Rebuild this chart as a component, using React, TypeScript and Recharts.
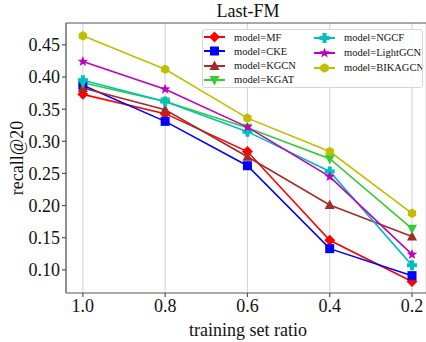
import { CartesianGrid, Label, Line, LineChart, ReferenceLine, XAxis, YAxis } from "recharts";

const ratios = [1.0, 0.8, 0.6, 0.4, 0.2];
const mf = [0.373, 0.343, 0.284, 0.146, 0.082];
const cke = [0.387, 0.331, 0.262, 0.133, 0.091];
const kgcn = [0.383, 0.349, 0.276, 0.201, 0.152];
const kgat = [0.391, 0.362, 0.321, 0.273, 0.164];
const ngcf = [0.395, 0.362, 0.315, 0.253, 0.107];
const lightgcn = [0.424, 0.381, 0.322, 0.245, 0.124];
const bikagcn = [0.464, 0.412, 0.336, 0.284, 0.188];
const yTicks = [0.1, 0.15, 0.2, 0.25, 0.3, 0.35, 0.4, 0.45];

const FONT = "'Liberation Serif', 'DejaVu Serif', serif";
const Y_MAX = 0.484;

type Shape = "diamond" | "square" | "up" | "down" | "x" | "star" | "hex";

const series: { key: string; name: string; color: string; shape: Shape; values: number[] }[] = [
  { key: "mf", name: "model=MF", color: "#ff0000", shape: "diamond", values: mf },
  { key: "cke", name: "model=CKE", color: "#0000ff", shape: "square", values: cke },
  { key: "kgcn", name: "model=KGCN", color: "#a52a2a", shape: "up", values: kgcn },
  { key: "kgat", name: "model=KGAT", color: "#32cd32", shape: "down", values: kgat },
  { key: "ngcf", name: "model=NGCF", color: "#00bfbf", shape: "x", values: ngcf },
  { key: "lightgcn", name: "model=LightGCN", color: "#bf00bf", shape: "star", values: lightgcn },
  { key: "bikagcn", name: "model=BIKAGCN", color: "#bfbf00", shape: "hex", values: bikagcn },
];

const data = ratios.map((r, i) => {
  const row: Record<string, number> = { ratio: r };
  series.forEach((s) => (row[s.key] = s.values[i]));
  return row;
});

function Marker({ cx, cy, shape, color }: { cx: number; cy: number; shape: Shape; color: string }) {
  if (cx == null || cy == null) return null;
  const pts = (arr: number[][]) => arr.map(([x, y]) => `${cx + x},${cy + y}`).join(" ");
  switch (shape) {
    case "diamond":
      return <polygon points={pts([[0, -5.5], [5.5, 0], [0, 5.5], [-5.5, 0]])} fill={color} />;
    case "square":
      return <rect x={cx - 4.5} y={cy - 4.5} width={9} height={9} fill={color} />;
    case "up":
      return <polygon points={pts([[0, -5.5], [5, 4], [-5, 4]])} fill={color} />;
    case "down":
      return <polygon points={pts([[0, 5.5], [5, -4], [-5, -4]])} fill={color} />;
    case "x": {
      const a = 2, b = 5;
      return (
        <polygon
          points={pts([[-a, -b], [a, -b], [a, -a], [b, -a], [b, a], [a, a], [a, b], [-a, b], [-a, a], [-b, a], [-b, -a], [-a, -a]])}
          fill={color}
        />
      );
    }
    case "star": {
      const p: number[][] = [];
      for (let i = 0; i < 10; i++) {
        const r = i % 2 === 0 ? 5.5 : 2.3;
        const ang = -Math.PI / 2 + (i * Math.PI) / 5;
        p.push([r * Math.cos(ang), r * Math.sin(ang)]);
      }
      return <polygon points={pts(p)} fill={color} />;
    }
    default: {
      const p: number[][] = [];
      for (let i = 0; i < 6; i++) {
        const ang = -Math.PI / 2 + (i * Math.PI) / 3;
        p.push([4.8 * Math.cos(ang), 4.8 * Math.sin(ang)]);
      }
      return <polygon points={pts(p)} fill={color} />;
    }
  }
}

// legend drawn as an overlay, two columns like the original
function LegendBox() {
  const cols = [series.slice(0, 4), series.slice(4)];
  return (
    <div
      style={{
        position: "absolute",
        left: 202,
        top: 29,
        width: 221,
        height: 59,
        boxSizing: "border-box",
        display: "flex",
        padding: "0 0 0 1px",
        background: "rgba(255,255,255,0.85)",
        border: "1px solid #d6d6d6",
        borderRadius: 3,
        fontFamily: FONT,
        fontSize: 10.5,
        color: "#111",
        overflow: "hidden",
      }}
    >
      {cols.map((col, ci) => (
        <div key={ci} style={{ display: "flex", flexDirection: "column", width: ci === 0 ? 110 : 108 }}>
          {col.map((s) => (
            <div key={s.key} style={{ display: "flex", alignItems: "center", height: 15, whiteSpace: "nowrap" }}>
              <svg width={21} height={12} style={{ marginRight: 9, flexShrink: 0 }}>
                <line x1={0} y1={6} x2={21} y2={6} stroke={s.color} strokeWidth={1.8} />
                <Marker cx={10.5} cy={6} shape={s.shape} color={s.color} />
              </svg>
              <span>{s.name}</span>
            </div>
          ))}
        </div>
      ))}
    </div>
  );
}

export default function App() {
  return (
    <div style={{ position: "absolute", left: 0, top: 0, width: 426, height: 342, background: "#fff" }}>
      <LineChart width={426} height={342} data={data} margin={{ top: 23, right: 0, bottom: 0, left: 0 }}>
        <CartesianGrid horizontal={false} stroke="#d9d9d9" strokeWidth={1.2} />
        <XAxis
          dataKey="ratio"
          type="number"
          reversed
          domain={[0.166, 1.041]}
          allowDataOverflow
          ticks={ratios}
          interval={0}
          tickFormatter={(v: number) => v.toFixed(1)}
          height={49}
          stroke="#555"
          strokeWidth={1.2}
          tickSize={4}
          tick={{ fontFamily: FONT, fontSize: 18, fill: "#111" }}
        >
          <Label
            content={() => (
              <g>
                <text x={248} y={336} textAnchor="middle" fontFamily={FONT} fontSize={18} fill="#111">
                  training set ratio
                </text>
                <text x={248} y={17} textAnchor="middle" fontFamily={FONT} fontSize={18} fill="#111">
                  Last-FM
                </text>
              </g>
            )}
          />
        </XAxis>
        <YAxis
          type="number"
          domain={[0.064, Y_MAX]}
          allowDataOverflow
          ticks={yTicks}
          interval={0}
          tickFormatter={(v: number) => v.toFixed(2)}
          width={66}
          stroke="#555"
          strokeWidth={1.2}
          tickSize={4}
          tick={{ fontFamily: FONT, fontSize: 18, fill: "#111" }}
        >
          <Label
            content={() => (
              <text
                x={23}
                y={158}
                textAnchor="middle"
                transform="rotate(-90 23 158)"
                fontFamily={FONT}
                fontSize={18}
                fill="#111"
              >
                recall@20
              </text>
            )}
          />
        </YAxis>
        <ReferenceLine y={Y_MAX} stroke="#555" strokeWidth={1.2} />
        {series.map((s) => (
          <Line
            key={s.key}
            dataKey={s.key}
            name={s.name}
            stroke={s.color}
            strokeWidth={1.6}
            isAnimationActive={false}
            dot={(p: any) => <Marker key={`${s.key}-${p.index}`} cx={p.cx} cy={p.cy} shape={s.shape} color={s.color} />}
            activeDot={false}
          />
        ))}
      </LineChart>
      <LegendBox />
    </div>
  );
}
